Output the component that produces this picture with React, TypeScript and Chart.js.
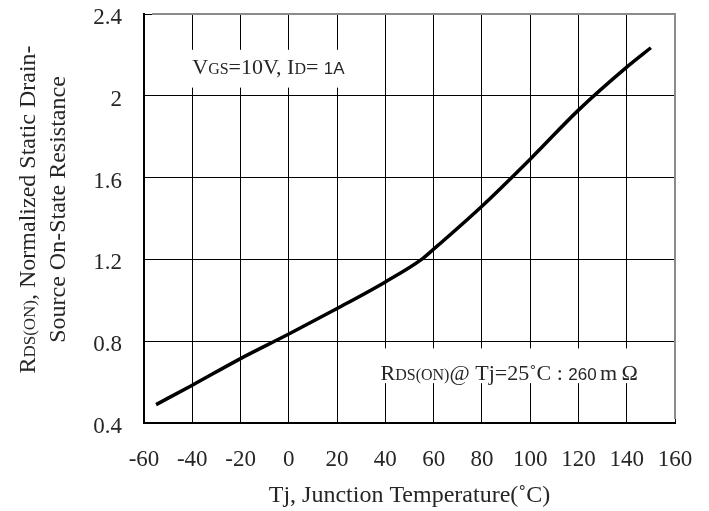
import React, { useEffect, useRef } from "react";
import { Chart, registerables } from "chart.js";

Chart.register(...registerables);

const temps = [-55, -40, -20, 0, 20, 40, 55, 60, 80, 100, 120, 140, 150];
const rdsNorm = [0.49, 0.585, 0.715, 0.835, 0.96, 1.09, 1.2, 1.25, 1.46, 1.69, 1.93, 2.14, 2.235];
const xTitle = "Tj, Junction Temperature(\u02DAC)";
const yTitleLine1 = [
  { t: "R", s: "big" },
  { t: "DS(ON)", s: "sub" },
  { t: ", Normalized Static Drain-", s: "big" },
];
const yTitleLine2 = [{ t: "Source On-State Resistance", s: "big" }];
const noteTop = [
  { t: "V", s: "big" },
  { t: "GS", s: "sub" },
  { t: "=10V, I", s: "big" },
  { t: "D", s: "sub" },
  { t: "= ", s: "big" },
  { t: "1A", s: "sans" },
];
const noteBottom = [
  { t: "R", s: "big" },
  { t: "DS(ON)", s: "sub" },
  { t: "@ Tj=25\u02DAC : ", s: "big" },
  { t: "260\u2009", s: "sans" },
  { t: "m\u2009", s: "big" },
  { t: "\u03A9", s: "big" },
];

const SERIF = "'Liberation Serif', 'Times New Roman', serif";
const SANS = "'Liberation Sans', Arial, sans-serif";
const TEXT = "#262626";

type Seg = { t: string; s: string };

function fontFor(s: string, big: number) {
  if (s === "sub") return `${Math.round(big * 0.72)}px ${SERIF}`;
  if (s === "sans") return `${Math.round(big * 0.78)}px ${SANS}`;
  return `${big}px ${SERIF}`;
}

function measureSegs(ctx: CanvasRenderingContext2D, segs: Seg[], big: number) {
  let w = 0;
  for (const sg of segs) {
    ctx.font = fontFor(sg.s, big);
    w += ctx.measureText(sg.t).width;
  }
  return w;
}

function drawSegs(ctx: CanvasRenderingContext2D, segs: Seg[], x: number, y: number, big: number) {
  let cx = x;
  ctx.textBaseline = "alphabetic";
  ctx.textAlign = "left";
  for (const sg of segs) {
    ctx.font = fontFor(sg.s, big);
    ctx.fillText(sg.t, cx, y);
    cx += ctx.measureText(sg.t).width;
  }
}

const overlayPlugin = {
  id: "overlay",
  beforeDatasetsDraw(chart: any) {
    const ctx = chart.ctx as CanvasRenderingContext2D;
    const xs = chart.scales.x;
    const ys = chart.scales.y;
    const ca = chart.chartArea;
    ctx.save();
    // frame: top/right gray
    ctx.strokeStyle = "#8c8c8c";
    ctx.lineWidth = 2;
    ctx.beginPath();
    ctx.moveTo(ca.left + 8, ca.top);
    ctx.lineTo(ca.right, ca.top);
    ctx.lineTo(ca.right, ca.bottom - 4);
    ctx.stroke();
    // note boxes
    ctx.fillStyle = "#ffffff";
    const tx0 = xs.getPixelForValue(-59);
    const tx1 = xs.getPixelForValue(26);
    const ty0 = ys.getPixelForValue(2.225);
    const ty1 = ys.getPixelForValue(2.04);
    ctx.fillRect(tx0, ty0, tx1 - tx0, ty1 - ty0);
    const bx0 = xs.getPixelForValue(30);
    const bx1 = xs.getPixelForValue(151);
    const by0 = ys.getPixelForValue(0.765);
    const by1 = ys.getPixelForValue(0.595);
    ctx.fillRect(bx0, by0, bx1 - bx0, by1 - by0);
    ctx.fillStyle = TEXT;
    drawSegs(ctx, noteTop, xs.getPixelForValue(-40), ys.getPixelForValue(2.105), 22);
    drawSegs(ctx, noteBottom, xs.getPixelForValue(38), ys.getPixelForValue(0.61), 22);
    // y title
    const cy = (ca.top + ca.bottom) / 2 - 9;
    const lines: [Seg[], number][] = [
      [yTitleLine1, 35],
      [yTitleLine2, 65],
    ];
    for (const [segs, xb] of lines) {
      ctx.save();
      ctx.translate(xb, cy);
      ctx.rotate(-Math.PI / 2);
      const w = measureSegs(ctx, segs, 24);
      drawSegs(ctx, segs, -w / 2, 0, 24);
      ctx.restore();
    }
    ctx.restore();
  },
};

export default function App() {
  const ref = useRef<HTMLCanvasElement | null>(null);
  useEffect(() => {
    if (!ref.current) return;
    const chart = new Chart(ref.current, {
      type: "line",
      data: {
        datasets: [
          {
            data: temps.map((t, i) => ({ x: t, y: rdsNorm[i] })),
            borderColor: "#000000",
            borderWidth: 3.5,
            pointRadius: 0,
            cubicInterpolationMode: "monotone",
            fill: false,
          },
        ],
      },
      options: {
        animation: false,
        responsive: true,
        maintainAspectRatio: false,
        layout: { padding: { top: 14, right: 34, left: 0, bottom: 0 }, autoPadding: false },
        plugins: { legend: { display: false }, tooltip: { enabled: false } },
        scales: {
          x: {
            type: "linear",
            min: -60,
            max: 160,
            afterFit: (s: any) => {
              s.height = 88;
              s.paddingLeft = 0;
              s.paddingRight = 0;
              s.paddingTop = 0;
              s.paddingBottom = 0;
            },
            ticks: {
              stepSize: 20,
              padding: 23,
              color: TEXT,
              font: { family: SERIF, size: 23 },
              maxRotation: 0,
              autoSkip: false,
            },
            grid: { color: "#000000", lineWidth: 1, drawTicks: false },
            border: { color: "#000000", width: 2 },
            title: {
              display: true,
              text: xTitle,
              color: TEXT,
              font: { family: SERIF, size: 24 },
              padding: { top: 0, bottom: 1 },
            },
          },
          y: {
            type: "linear",
            min: 0.4,
            max: 2.4,
            afterFit: (s: any) => {
              s.width = 144;
              s.paddingLeft = 0;
              s.paddingRight = 0;
              s.paddingTop = 0;
              s.paddingBottom = 0;
            },
            ticks: {
              stepSize: 0.4,
              padding: 22,
              labelOffset: 4,
              color: TEXT,
              font: { family: SERIF, size: 23 },
              callback: (v: any) => String(Number(Number(v).toFixed(1))),
            },
            grid: { color: "#000000", lineWidth: 1, drawTicks: false },
            border: { color: "#000000", width: 2 },
          },
        },
      },
      plugins: [overlayPlugin],
    } as any);
    return () => chart.destroy();
  }, []);
  return (
    <div style={{ position: "absolute", left: 0, top: 0, width: 709, height: 511, background: "#fff" }}>
      <canvas ref={ref} />
    </div>
  );
}
